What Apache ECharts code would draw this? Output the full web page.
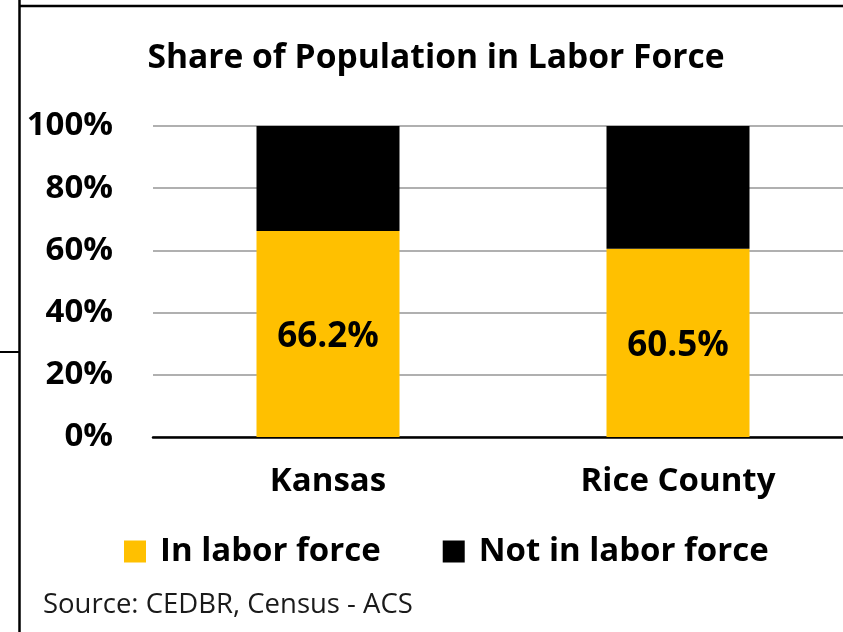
<!DOCTYPE html>
<html><head><meta charset="utf-8">
<script src="https://cdn.jsdelivr.net/npm/echarts@6/dist/echarts.min.js"></script>
<style>html,body{margin:0;padding:0;background:#fff}#c{width:843px;height:632px}</style>
</head>
<body>
<div id="c"></div>
<script>
const titleText = 'Share of Population in Labor Force';
const categories = ['Kansas', 'Rice County'];
const seriesNames = ['In labor force', 'Not in labor force'];
const inLaborForce = [66.2, 60.5];
const notInLaborForce = [33.8, 39.5];
const yTickValues = [0, 20, 40, 60, 80, 100];
const sourceText = 'Source: CEDBR, Census - ACS';

const FONT = "'Open Sans'";
const chart = echarts.init(document.getElementById('c'), null, {renderer: 'canvas'});
chart.setOption({
  animation: false,
  backgroundColor: '#ffffff',
  title: {
    text: titleText, left: 431, top: 36, textAlign: 'center',
    textStyle: {fontFamily: FONT, fontWeight: 'bold', fontSize: 33.6, color: '#000'}
  },
  grid: {left: 153, right: -10, top: 126, bottom: 195, containLabel: false, outerBoundsMode: 'none'},
  legend: {
    data: seriesNames, left: 119, top: 530, itemWidth: 22, itemHeight: 22, itemGap: 62,
    icon: 'rect',
    textStyle: {fontFamily: FONT, fontWeight: 'bold', fontSize: 33, color: '#000', padding: [0, 0, 0, 9]}
  },
  xAxis: {
    type: 'category', data: categories,
    axisLine: {show: true, lineStyle: {color: '#000', width: 2.5}},
    axisTick: {show: false},
    axisLabel: {fontFamily: FONT, fontWeight: 'bold', fontSize: 33, color: '#000', margin: 28},
    splitLine: {show: false}
  },
  yAxis: {
    type: 'value', min: yTickValues[0], max: yTickValues[yTickValues.length - 1],
    interval: yTickValues[1] - yTickValues[0],
    axisLine: {show: false}, axisTick: {show: false},
    axisLabel: {fontFamily: FONT, fontWeight: 'bold', fontSize: 33, color: '#000', margin: 40,
      formatter: v => v + '%'},
    splitLine: {show: true, lineStyle: {color: '#b0b0b0', width: 2}}
  },
  series: [
    {
      name: seriesNames[0], type: 'bar', stack: 'total', data: inLaborForce, barWidth: 143,
      itemStyle: {color: '#FFC000'},
      label: {show: true, position: 'inside', offset: [0, 3], formatter: p => p.value.toFixed(1) + '%',
        fontFamily: FONT, fontWeight: 'bold', fontSize: 35, color: '#000'}
    },
    {
      name: seriesNames[1], type: 'bar', stack: 'total', data: notInLaborForce, barWidth: 143,
      itemStyle: {color: '#000000'}
    }
  ],
  graphic: [
    {type: 'line', shape: {x1: 19, y1: 6, x2: 843, y2: 6}, style: {stroke: '#000', lineWidth: 2.5}, silent: true},
    {type: 'line', shape: {x1: 19.5, y1: 0, x2: 19.5, y2: 632}, style: {stroke: '#000', lineWidth: 2.5}, silent: true},
    {type: 'line', shape: {x1: 0, y1: 352, x2: 19, y2: 352}, style: {stroke: '#000', lineWidth: 2}, silent: true},
    {type: 'text', left: 43, top: 591,
      style: {text: sourceText, fontFamily: FONT, fontSize: 27.5, fill: '#1a1a1a'}, silent: true}
  ]
});
</script>
</body></html>
